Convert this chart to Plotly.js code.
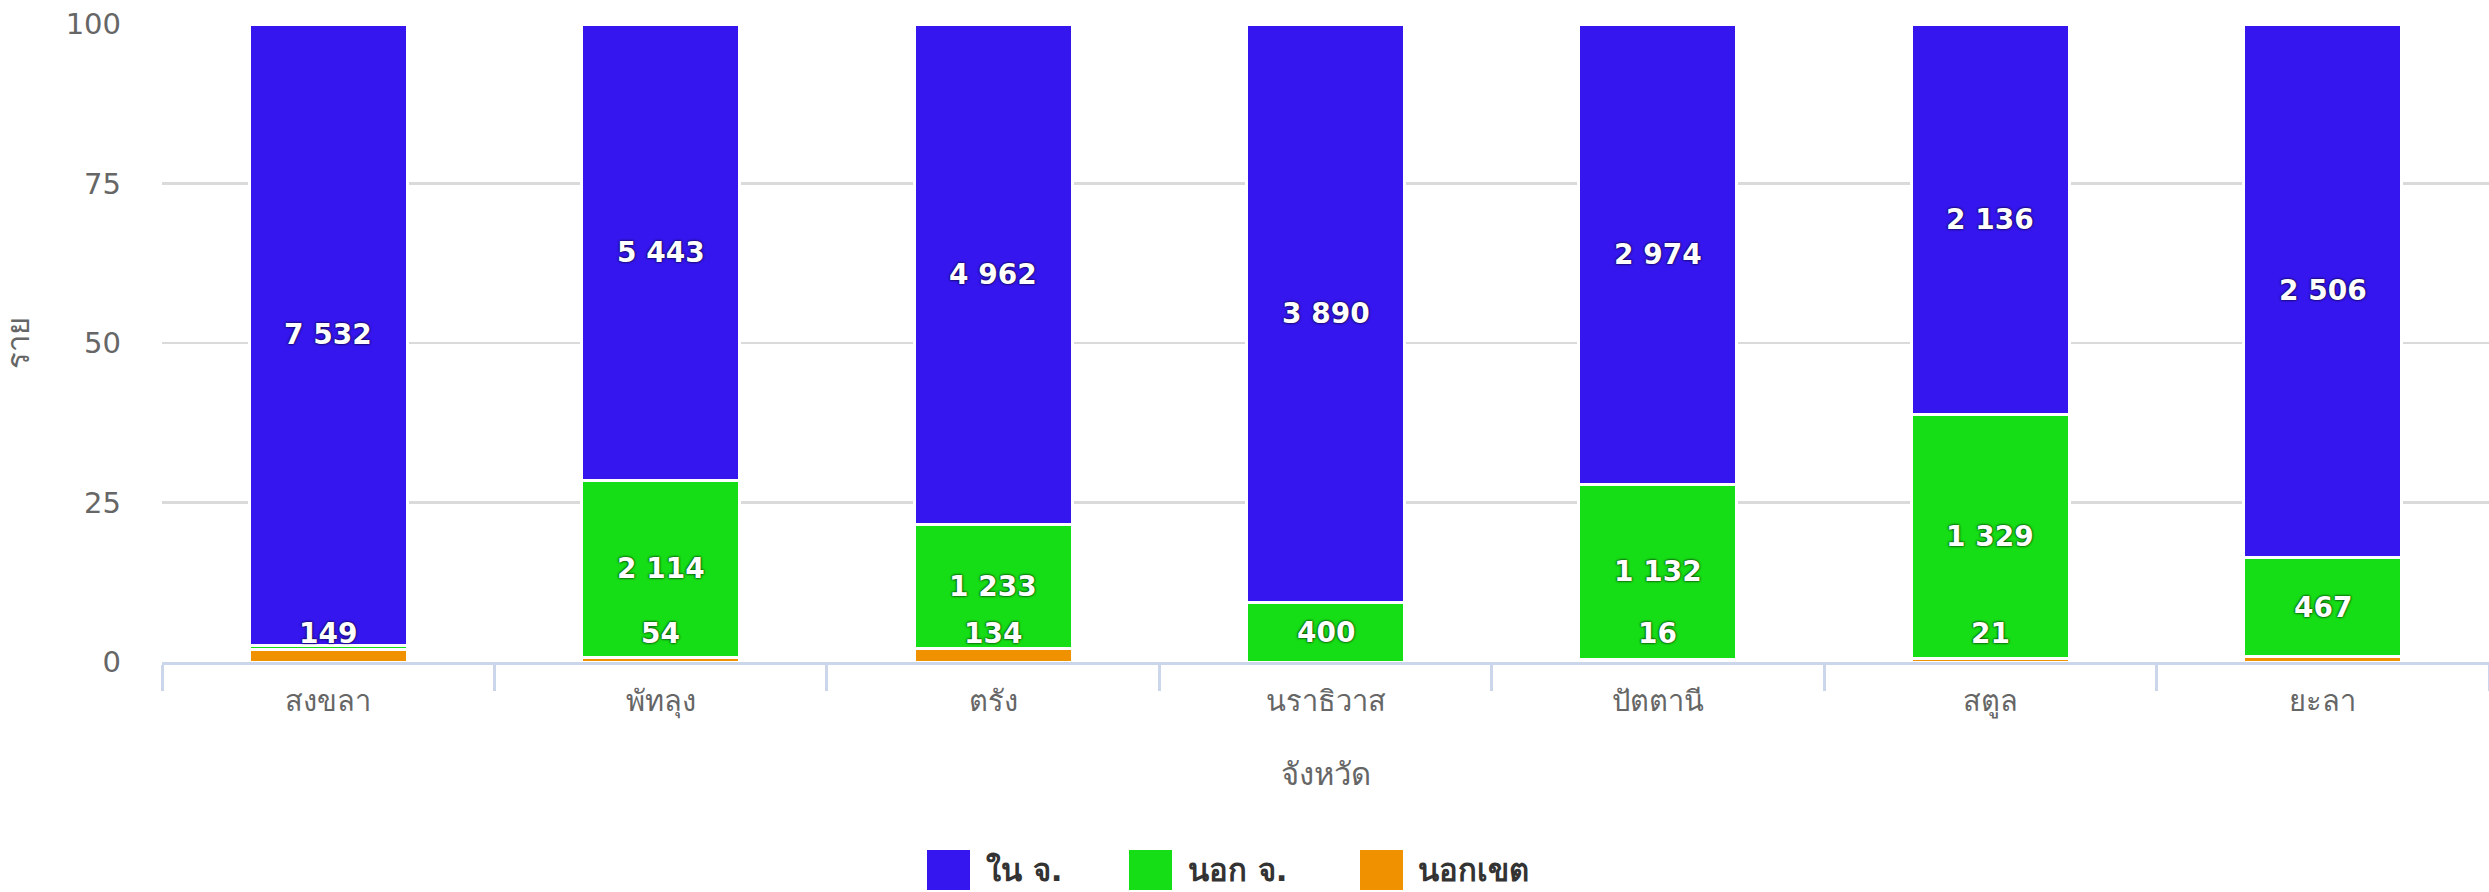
<!DOCTYPE html>
<html>
<head>
<meta charset="utf-8">
<script src="https://cdn.plot.ly/plotly-3.0.1.min.js"></script>
<style>
  html, body { margin: 0; padding: 0; background: #ffffff; }
  #chart { width: 2489px; height: 892px; }
</style>
</head>
<body>
<div id="chart"></div>
<script>
// ---- data ----
const categories = ['สงขลา', 'พัทลุง', 'ตรัง', 'นราธิวาส', 'ปัตตานี', 'สตูล', 'ยะลา'];
const seriesNames = ['ใน จ.', 'นอก จ.', 'นอกเขต'];
const inProvince = [7532, 5443, 4962, 3890, 2974, 2136, 2506];
const outProvince = [45, 2114, 1233, 400, 1132, 1329, 467];
const outRegion = [149, 54, 134, 0, 16, 21, 24];
const yTickValues = [0, 25, 50, 75, 100];
const xAxisTitle = 'จังหวัด';
const yAxisTitle = 'ราย';

// ---- style ----
const colors = ['#3516EE', '#16DE16', '#F09100'];
const FONT = 'DejaVu Sans, Noto Sans, sans-serif';
const W = 2489, H = 892;
const M = { l: 162, r: 0, t: 24, b: 230 };
const plotW = W - M.l - M.r, plotH = H - M.t - M.b;
const px2x = p => (p - M.l) / plotW;
const px2y = p => (H - M.b - p) / plotH;

function fmt(v) {
  return String(v).replace(/\B(?=(\d{3})+(?!\d))/g, ' ');
}

const barLine = { color: '#ffffff', width: 3 };
// stacking order bottom -> top: outRegion, outProvince, inProvince
const traces = [
  { name: seriesNames[2], y: outRegion, color: colors[2] },
  { name: seriesNames[1], y: outProvince, color: colors[1] },
  { name: seriesNames[0], y: inProvince, color: colors[0] }
].map(s => ({
  type: 'bar',
  x: categories,
  y: s.y,
  name: s.name,
  marker: { color: s.color, line: barLine },
  hoverinfo: 'skip',
  showlegend: false
}));

// ---- data labels (percent positions computed from data) ----
const LABEL_MIN = 4.4;   // labels are kept inside the plot bottom
const OVERLAP = 5.7;     // vertical label size in percent units
const annotations = [];
const labelFont = { family: FONT, size: 28, color: '#ffffff', weight: 700,
  shadow: '0px 0px 2px rgba(0,0,0,0.8), 0px 0px 3px rgba(0,0,0,0.6)' };

categories.forEach((c, i) => {
  const tot = inProvince[i] + outProvince[i] + outRegion[i];
  const pR = outRegion[i] / tot * 100;
  const pP = outProvince[i] / tot * 100;
  const pI = inProvince[i] / tot * 100;
  const labels = [
    { v: outRegion[i], y: Math.max(pR / 2, LABEL_MIN) },
    { v: outProvince[i], y: Math.max(pR + pP / 2, LABEL_MIN) },
    { v: inProvince[i], y: Math.max(pR + pP + pI / 2, LABEL_MIN) }
  ].filter(l => l.v > 0);
  // hide the smaller value when two labels overlap
  const shown = labels.filter(l => !labels.some(o => o !== l && Math.abs(o.y - l.y) < OVERLAP && o.v > l.v));
  shown.forEach(l => annotations.push({
    x: c, y: l.y, xref: 'x', yref: 'y',
    text: fmt(l.v), showarrow: false,
    xanchor: 'center', yanchor: 'middle',
    font: labelFont
  }));
});

// ---- legend drawn as shapes + text ----
const legendItems = [
  { sx: 927, tx: 984 },
  { sx: 1129, tx: 1186 },
  { sx: 1360, tx: 1416 }
];
const shapes = [];
const legTop = 850, legBot = 890, legMid = 870, symW = 43;
legendItems.forEach((it, k) => {
  shapes.push({
    type: 'rect', xref: 'paper', yref: 'paper',
    x0: px2x(it.sx), x1: px2x(it.sx + symW),
    y0: px2y(legBot), y1: px2y(legTop),
    fillcolor: colors[k], line: { width: 0 }
  });
  annotations.push({
    xref: 'paper', yref: 'paper',
    x: px2x(it.tx), y: px2y(legMid),
    xanchor: 'left', yanchor: 'middle',
    text: seriesNames[k], showarrow: false,
    font: { family: FONT, size: 31, color: '#333333', weight: 700 }
  });
});

const layout = {
  width: W, height: H,
  margin: M,
  paper_bgcolor: '#ffffff',
  plot_bgcolor: '#ffffff',
  barmode: 'stack',
  barnorm: 'percent',
  bargap: 0.525,
  showlegend: false,
  font: { family: FONT, color: '#666666' },
  xaxis: {
    type: 'category',
    tickson: 'boundaries',
    ticks: 'outside', ticklen: 26, tickwidth: 3, tickcolor: '#ccd6eb',
    showline: true, linecolor: '#ccd6eb', linewidth: 3,
    showgrid: false, zeroline: false,
    ticklabelstandoff: 11,
    tickfont: { family: FONT, size: 29, color: '#666666' },
    title: { text: xAxisTitle, font: { family: FONT, size: 31, color: '#666666' }, standoff: 46 },
    automargin: true,
    fixedrange: true
  },
  yaxis: {
    range: [0, 100],
    tickvals: yTickValues,
    ticktext: yTickValues.map(String),
    showgrid: true, gridcolor: '#dadada', gridwidth: 2.5,
    zeroline: false, showline: false, ticks: '',
    ticklabelstandoff: 40,
    tickfont: { family: FONT, size: 29, color: '#666666' },
    title: { text: yAxisTitle, font: { family: FONT, size: 31, color: '#666666' }, standoff: 27 },
    automargin: true,
    fixedrange: true
  },
  shapes: shapes,
  annotations: annotations
};

Plotly.newPlot('chart', traces, layout, { displayModeBar: false, staticPlot: true });
</script>
</body>
</html>
